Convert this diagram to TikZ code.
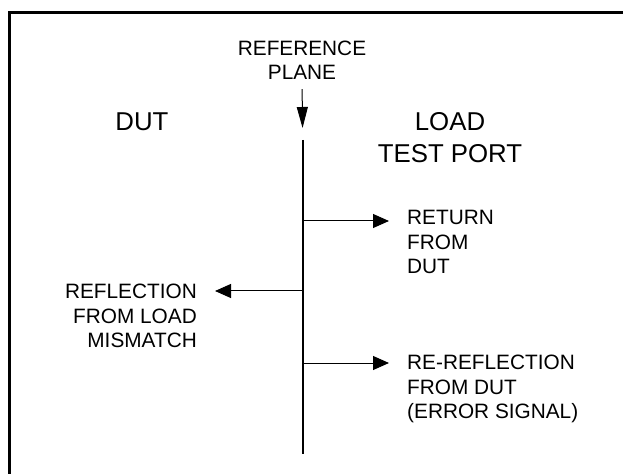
\documentclass[tikz,border=0pt]{standalone}
\usepackage{fontspec}
\setmainfont{Liberation Sans}
\usepackage{tikz}
\usetikzlibrary{arrows.meta}
\def\Signal from (#1) to (#2); {
    \draw[signal] (#1) -- (#1 -| #2);
}

\begin{document}
\begin{tikzpicture}[x=1pt, y=1pt,
        small/.style={font=\fontsize{20.8}{24.5}\selectfont, inner sep=0pt},
        big/.style={font=\fontsize{25.8}{32}\selectfont, inner sep=0pt},
        signal/.style={line width=1pt, -{Triangle[length=16pt,width=14pt]}, shorten >=18pt},
        pointer/.style={line width=1pt, -{Triangle[length=21pt,width=11pt]}}]
        \useasboundingbox (0,0) rectangle (623,474);
        \draw[line width=2.5pt] (623,461.5) -| (9.7,0); % open frame

        % reference plane
        \coordinate (top) at (302.7,334);
        \coordinate (bot) at (302.7,20);
        \draw[line width=2.3pt] (top) -- (bot);
        \node[small, align=center] (ref) at (302,414) {REFERENCE\\PLANE};
        \draw[pointer, shorten <=9.5pt, shorten >=12pt] (ref.south) -- (top);

        \node[big] (dut) at (142,352) {DUT};
        \node[big, align=center] (load) at (450,336) {LOAD\\TEST PORT};

        % signals
        \node[small, align=left, anchor=west] (ret) at (407,232) {RETURN\\FROM\\DUT};
        \node[small, align=right, anchor=east] (refl) at (197,158) {REFLECTION\\FROM LOAD\\MISMATCH};
        \node[small, align=left, anchor=west] (rerefl) at (407,85) {RE-REFLECTION\\FROM DUT\\(ERROR SIGNAL)};
        \coordinate (p1) at (302.7,253);
        \coordinate (p2) at (302.7,183);
        \coordinate (p3) at (302.7,111);
        \Signal from (p1) to (ret.west);
        \Signal from (p2) to (refl.east);
        \Signal from (p3) to (rerefl.west);
    \end{tikzpicture}
\end{document}
